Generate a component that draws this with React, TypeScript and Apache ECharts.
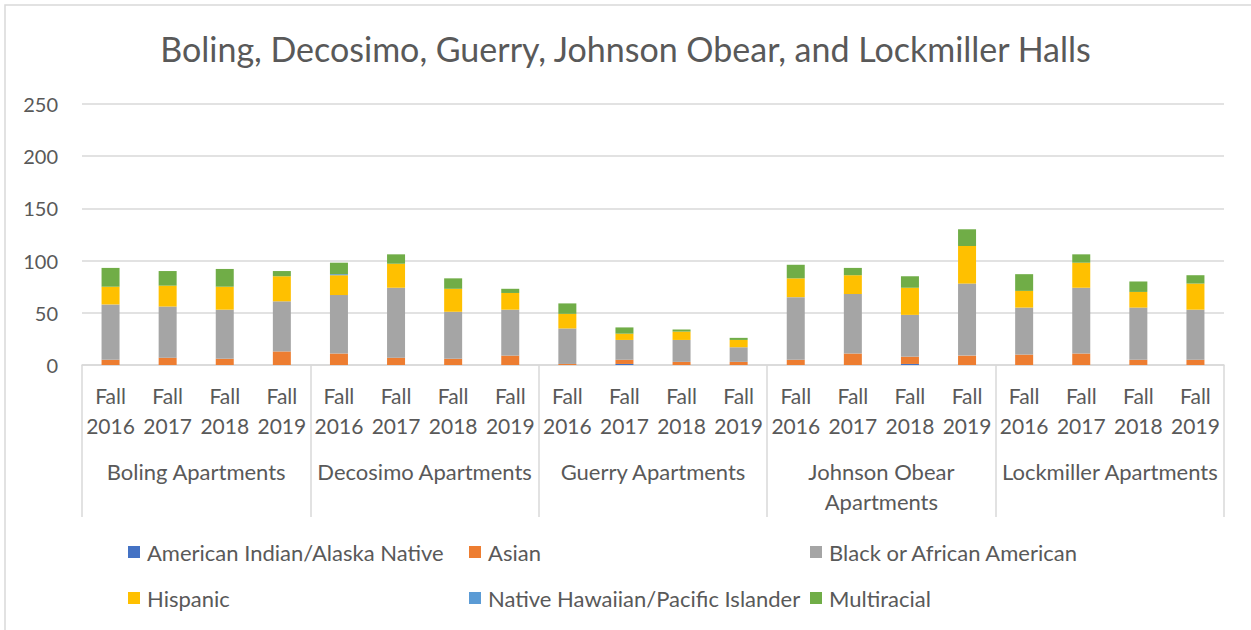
import React, { useEffect, useRef } from "react";
import * as echarts from "echarts";

const halls = ["Boling Apartments", "Decosimo Apartments", "Guerry Apartments", "Johnson Obear\nApartments", "Lockmiller Apartments"];
const terms = ["Fall\n2016", "Fall\n2017", "Fall\n2018", "Fall\n2019"];

const americanIndian = [0, 0, 0, 0, 0, 0, 0, 0, 0, 1, 0, 0, 0, 0, 1, 0, 0, 0, 0, 0];
const asian = [5, 7, 6, 13, 11, 7, 6, 9, 1, 4, 3, 3, 5, 11, 7, 9, 10, 11, 5, 5];
const black = [53, 49, 47, 48, 56, 67, 45, 44, 34, 19, 21, 14, 60, 57, 40, 69, 45, 63, 50, 48];
const hispanic = [17, 20, 22, 24, 19, 23, 22, 16, 14, 6, 8, 7, 18, 18, 26, 36, 16, 24, 15, 25];
const nativeHawaiian = [0, 0, 0, 0, 1, 0, 0, 0, 0, 0, 0, 0, 0, 0, 0, 0, 0, 0, 0, 0];
const multiracial = [18, 14, 17, 5, 11, 9, 10, 4, 10, 6, 2, 2, 13, 7, 11, 16, 16, 8, 10, 8];

const yTicks = { min: 0, max: 250, interval: 50 };

const FONT = "Lato";
const TXT = "#595959";
const GRIDC = "#d9d9d9";

export default function App() {
  const ref = useRef<HTMLDivElement>(null);
  useEffect(() => {
    document.body.style.margin = "0";
    const chart = echarts.init(ref.current!, undefined, { renderer: "svg" });
    const categories: string[] = [];
    halls.forEach(() => terms.forEach((t) => categories.push(t)));
    const mk = (name: string, data: number[], color: string) => ({
      name,
      type: "bar",
      stack: "total",
      barWidth: 18,
      data,
      itemStyle: { color },
      xAxisIndex: 0,
    });
    const legendBase = {
      top: 541,
      orient: "vertical",
      itemGap: 24,
      itemWidth: 12,
      itemHeight: 12,
      padding: 0,
      icon: "rect",
      textStyle: { fontFamily: FONT, fontSize: 22, color: TXT, padding: [0, 0, 0, 2] },
    };
    chart.setOption({
      animation: false,
      textStyle: { fontFamily: FONT },
      title: {
        text: "Boling, Decosimo, Guerry, Johnson Obear, and Lockmiller Halls",
        left: "center",
        top: 26,
        textStyle: { fontFamily: FONT, fontSize: 34, fontWeight: "normal", color: TXT },
      },
      graphic: [
        {
          type: "rect",
          shape: { x: 5, y: 5, width: 1270, height: 650 },
          style: { fill: "none", stroke: GRIDC, lineWidth: 1.5 },
          silent: true,
        },
      ],
      grid: { left: 82, right: 27, top: 104, bottom: 265 },
      xAxis: [
        {
          type: "category",
          data: categories,
          position: "bottom",
          axisLine: { show: true, lineStyle: { color: GRIDC, width: 1.5 } },
          axisTick: { show: false },
          axisLabel: {
            interval: 0,
            margin: 15,
            fontFamily: FONT,
            fontSize: 21,
            lineHeight: 30,
            color: TXT,
          },
        },
        {
          type: "category",
          data: halls,
          position: "bottom",
          axisLine: { show: false },
          axisTick: { show: true, length: 152, interval: 0, lineStyle: { color: GRIDC, width: 1.5 } },
          axisLabel: {
            interval: 0,
            margin: 91,
            fontFamily: FONT,
            fontSize: 22,
            lineHeight: 30,
            color: TXT,
          },
        },
      ],
      yAxis: {
        type: "value",
        min: yTicks.min,
        max: yTicks.max,
        interval: yTicks.interval,
        axisLine: { show: false },
        axisTick: { show: false },
        splitLine: { lineStyle: { color: GRIDC, width: 1.5 } },
        axisLabel: { fontFamily: FONT, fontSize: 20, color: TXT, margin: 24 },
      },
      legend: [
        { ...legendBase, left: 128, data: ["American Indian/Alaska Native", "Hispanic"] },
        { ...legendBase, left: 469, data: ["Asian", "Native Hawaiian/Pacific Islander"] },
        { ...legendBase, left: 810, data: ["Black or African American", "Multiracial"] },
      ],
      series: [
        mk("American Indian/Alaska Native", americanIndian, "#4472C4"),
        mk("Asian", asian, "#ED7D31"),
        mk("Black or African American", black, "#A5A5A5"),
        mk("Hispanic", hispanic, "#FFC000"),
        mk("Native Hawaiian/Pacific Islander", nativeHawaiian, "#5B9BD5"),
        mk("Multiracial", multiracial, "#70AD47"),
      ],
    });
    return () => chart.dispose();
  }, []);
  return <div ref={ref} style={{ width: 1251, height: 630 }} />;
}
